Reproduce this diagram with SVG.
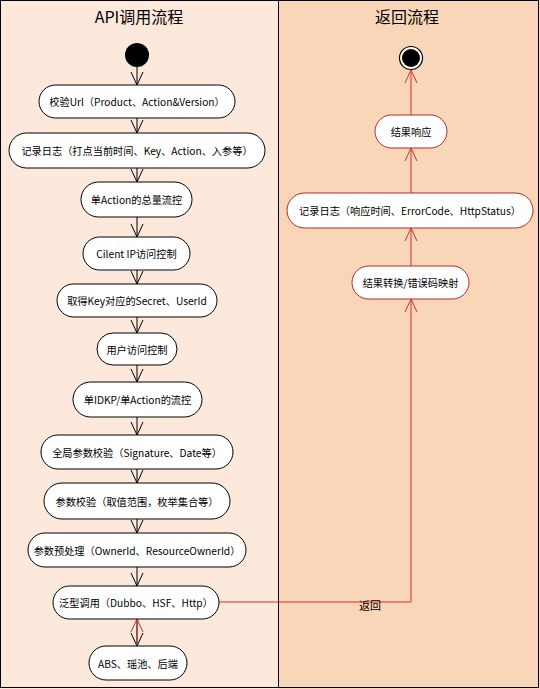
<svg xmlns="http://www.w3.org/2000/svg" width="540" height="689" viewBox="0 0 540 689">
<style>
.lane-l{fill:#fce9db}
.lane-r{fill:#f9d6b8}
.node rect{fill:#ffffff;stroke:#000000;stroke-width:1}
.rnode rect{fill:#ffffff;stroke:#b22a2a;stroke-width:1}
text{font-family:"Noto Sans CJK SC","Liberation Sans",sans-serif;fill:#000000}
.lbl{font-size:10.2px;text-anchor:middle;dominant-baseline:central}
.title{font-size:16px;text-anchor:middle;dominant-baseline:central}
.e{fill:none;stroke:#000000;stroke-width:1;marker-end:url(#ab)}
.er{fill:none;stroke:#d03030;stroke-width:1;marker-end:url(#ar)}
</style>
<defs>
<marker id="ab" markerUnits="userSpaceOnUse" markerWidth="16" markerHeight="16" viewBox="-14 -8 16 16" refX="0" refY="0" orient="auto" overflow="visible">
<path d="M-13,-6 L0,0 L-13,6" fill="none" stroke="#000000" stroke-width="1"/>
</marker>
<marker id="ar" markerUnits="userSpaceOnUse" markerWidth="16" markerHeight="16" viewBox="-14 -8 16 16" refX="0" refY="0" orient="auto" overflow="visible">
<path d="M-13,-6 L0,0 L-13,6" fill="none" stroke="#d03030" stroke-width="1"/>
</marker>
</defs>
<g id="lanes">
<rect class="lane-l" x="0" y="0" width="278" height="689"/>
<rect class="lane-r" x="278" y="0" width="262" height="689"/>
<rect x="0.5" y="0.5" width="538" height="687" fill="none" stroke="#000000" stroke-width="1"/>
<line x1="278.5" y1="0" x2="278.5" y2="688" stroke="#000000" stroke-width="1"/>
<text class="title" x="139" y="16">API调用流程</text>
<text class="title" x="407" y="16">返回流程</text>
</g>
<g id="edges">
<line class="e" x1="137" y1="67" x2="137" y2="85"/>
<line class="e" x1="137" y1="118" x2="137" y2="133"/>
<line class="e" x1="137" y1="168" x2="137" y2="182"/>
<line class="e" x1="137" y1="217" x2="137" y2="237"/>
<line class="e" x1="137" y1="270" x2="137" y2="284"/>
<line class="e" x1="137" y1="317" x2="137" y2="333"/>
<line class="e" x1="137" y1="365" x2="137" y2="382"/>
<line class="e" x1="137" y1="417" x2="137" y2="435"/>
<line class="e" x1="137" y1="469" x2="137" y2="483"/>
<line class="e" x1="137" y1="519" x2="137" y2="533"/>
<line class="e" x1="137" y1="567" x2="137" y2="586"/>
<line class="e" x1="137" y1="619" x2="137" y2="646"/>
<line class="er" x1="137" y1="646" x2="137" y2="619"/>
<polyline class="er" points="219,602 411,602 411,299"/>
<text x="370" y="605" font-size="11" text-anchor="middle" dominant-baseline="central">返回</text>
<line class="er" x1="411" y1="266" x2="411" y2="228"/>
<line class="er" x1="411" y1="193" x2="411" y2="148"/>
<line class="er" x1="411" y1="115" x2="411" y2="70"/>
</g>
<g id="start"><circle cx="137" cy="55" r="12" fill="#000000"/></g>
<g id="n1" class="node"><rect x="39" y="85" width="196" height="33" rx="16.5"/><text class="lbl" x="137" y="101.5">校验Url（Product、Action&amp;Version）</text></g>
<g id="n2" class="node"><rect x="9" y="133" width="256" height="35" rx="17.5"/><text class="lbl" x="137" y="150.5">记录日志（打点当前时间、Key、Action、入参等）</text></g>
<g id="n3" class="node"><rect x="81" y="182" width="111" height="35" rx="17.5"/><text class="lbl" x="136.5" y="199.5">单Action的总量流控</text></g>
<g id="n4" class="node"><rect x="83" y="237" width="107" height="33" rx="16.5"/><text class="lbl" x="136.5" y="253.5">Cilent IP访问控制</text></g>
<g id="n5" class="node"><rect x="57" y="284" width="160" height="33" rx="16.5"/><text class="lbl" x="137" y="300.5">取得Key对应的Secret、UserId</text></g>
<g id="n6" class="node"><rect x="97" y="333" width="80" height="32" rx="16"/><text class="lbl" x="137" y="349">用户访问控制</text></g>
<g id="n7" class="node"><rect x="73" y="382" width="129" height="35" rx="17.5"/><text class="lbl" x="137.5" y="399.5">单IDKP/单Action的流控</text></g>
<g id="n8" class="node"><rect x="41" y="435" width="192" height="34" rx="17"/><text class="lbl" x="137" y="452">全局参数校验（Signature、Date等）</text></g>
<g id="n9" class="node"><rect x="44" y="483" width="186" height="36" rx="18"/><text class="lbl" x="137" y="501">参数校验（取值范围，枚举集合等）</text></g>
<g id="n10" class="node"><rect x="28" y="533" width="218" height="34" rx="17"/><text class="lbl" x="137" y="550">参数预处理（OwnerId、ResourceOwnerId）</text></g>
<g id="n11" class="node"><rect x="53" y="586" width="166" height="33" rx="16.5"/><text class="lbl" x="136" y="602.5">泛型调用（Dubbo、HSF、Http）</text></g>
<g id="n12" class="node"><rect x="89" y="646" width="98" height="34" rx="17"/><text class="lbl" x="138" y="663">ABS、瑶池、后端</text></g>
<g id="end"><circle cx="411" cy="58" r="11.5" fill="#ffffff" stroke="#000000" stroke-width="1.2"/><circle cx="411" cy="58" r="9" fill="#000000"/></g>
<g id="r1" class="rnode"><rect x="375" y="115" width="72" height="33" rx="16.5"/><text class="lbl" x="411" y="131.5">结果响应</text></g>
<g id="r2" class="rnode"><rect x="287" y="193" width="246" height="35" rx="17.5"/><text class="lbl" x="410" y="210.5">记录日志（响应时间、ErrorCode、HttpStatus）</text></g>
<g id="r3" class="rnode"><rect x="352" y="266" width="117" height="33" rx="16.5"/><text class="lbl" x="410.5" y="282.5">结果转换/错误码映射</text></g>
</svg>
